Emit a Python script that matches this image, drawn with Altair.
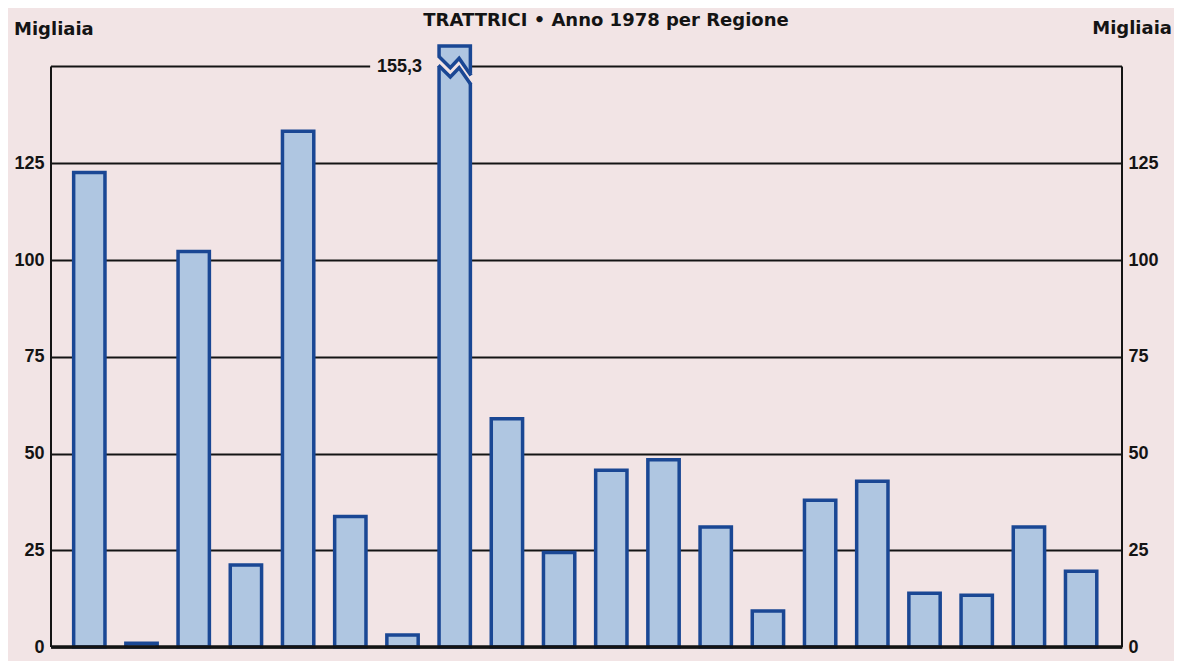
import altair as alt
import pandas as pd

# ---- data (thousands of tractors, 1978) ----
regions = ["Piemonte", "Valle d'Aosta", "Lombardia", "Trentino-Alto Adige", "Veneto",
           "Friuli-Venezia Giulia", "Liguria", "Emilia-Romagna", "Toscana", "Umbria",
           "Marche", "Lazio", "Abruzzi", "Molise", "Campania", "Puglia", "Basilicata",
           "Calabria", "Sicilia", "Sardegna"]
values = [122.6, 1.0, 102.2, 21.2, 133.3, 33.7, 3.1, 155.3, 59.0, 24.4,
          45.7, 48.4, 31.0, 9.3, 37.9, 42.8, 13.9, 13.4, 31.0, 19.6]
positions = list(range(1, 21))

y_ticks = [0, 25, 50, 75, 100, 125]
top_line = 150
title_text = "TRATTRICI • Anno 1978 per Regione"
unit_label = "Migliaia"
broken_label = "155,3"

# break symbol on the tallest bar (shape offsets, x in bar half-widths, y below bar top)
brk_k = [-1.0, -0.27, 0.27, 1.0]
brk_upper = [2.6, 5.6, 3.2, 7.6]
brk_lower = [5.0, 8.0, 5.6, 10.0]

# ---- style ----
BG = "#f2e4e5"
FILL = "#afc6e1"
EDGE = "#1a4794"
INK = "#141414"
W, H = 1071, 601
HALF = 0.3
x_dom = [0.266, 20.783]
y_max = max(values)

xs = alt.Scale(domain=x_dom, nice=False, zero=False)
ys = alt.Scale(domain=[0, y_max], nice=False, zero=False)

df = pd.DataFrame({"regione": regions, "valore": values, "pos": positions})
brk_pos = positions[values.index(max(values))]
zz = pd.DataFrame({
    "xa": [brk_pos + k * (HALF + 0.05) for k in brk_k],
    "xl": [brk_pos + k * (HALF + 0.012) for k in brk_k],
    "yu": [y_max - d for d in brk_upper],
    "yl": [y_max - d for d in brk_lower],
})
segs = pd.DataFrame({"x0": [x_dom[0], brk_pos], "x1": [brk_pos - 1.62, x_dom[1]]})
frame = pd.DataFrame({"x": x_dom})
lab = pd.DataFrame({"x": [brk_pos - 0.627], "y": [top_line], "t": [broken_label]})

left_axis = alt.Axis(values=y_ticks, orient="left", grid=True, gridColor=INK, gridWidth=2,
                     domain=False, ticks=False, labelFontSize=18, labelFont="Liberation Sans",
                     labelFontWeight="bold", labelColor=INK, labelPadding=7, title=None)
right_axis = alt.Axis(values=y_ticks, orient="right", grid=False,
                      domain=False, ticks=False, labelFontSize=18, labelFont="Liberation Sans",
                      labelFontWeight="bold", labelColor=INK, labelPadding=6, title=None)

top_segs = alt.Chart(segs).mark_rule(color=INK, strokeWidth=2).encode(
    x=alt.X("x0:Q", scale=xs, axis=None), x2="x1:Q", y=alt.datum(top_line))

bars = alt.Chart(df).transform_calculate(
    x0=f"datum.pos - {HALF}", x1=f"datum.pos + {HALF}"
).mark_rect(fill=FILL, stroke=EDGE, strokeWidth=3.5).encode(
    x=alt.X("x0:Q", scale=xs, axis=None), x2="x1:Q",
    y=alt.Y("valore:Q", scale=ys, axis=left_axis), y2=alt.datum(0),
    tooltip=["regione:N", "valore:Q"])

gap = alt.Chart(zz).mark_area(color=BG, opacity=1).encode(
    x=alt.X("xa:Q", scale=xs), y="yu:Q", y2="yl:Q")
zu = alt.Chart(zz).mark_line(color=EDGE, strokeWidth=3.5, strokeJoin="miter").encode(
    x=alt.X("xl:Q", scale=xs), y="yu:Q")
zl = alt.Chart(zz).mark_line(color=EDGE, strokeWidth=3.5, strokeJoin="miter").encode(
    x=alt.X("xl:Q", scale=xs), y="yl:Q")

sides = alt.Chart(frame).mark_rule(color=INK, strokeWidth=2).encode(
    x=alt.X("x:Q", scale=xs), y=alt.datum(0), y2=alt.datum(top_line))
base = alt.Chart(frame).mark_rule(color=INK, strokeWidth=3).encode(
    x=alt.datum(x_dom[0]), x2=alt.datum(x_dom[1]), y=alt.datum(0))

blabel = alt.Chart(lab).mark_text(align="right", baseline="middle", fontSize=18,
                                   font="Liberation Sans", fontWeight="bold", color=INK).encode(
    x=alt.X("x:Q", scale=xs), y="y:Q", text="t:N")

tdf = pd.DataFrame({"t": [title_text]})
title = alt.Chart(tdf).mark_text(align="center", baseline="alphabetic", fontSize=18,
                                 font="DejaVu Sans", fontWeight="bold", color=INK).encode(
    text="t:N", x=alt.value(555), y=alt.value(-20))
udf = pd.DataFrame({"t": [unit_label]})
uleft = alt.Chart(udf).mark_text(align="left", baseline="alphabetic", fontSize=18,
                                 font="DejaVu Sans", fontWeight="bold", color=INK).encode(
    text="t:N", x=alt.value(-37), y=alt.value(-11))
uright = alt.Chart(udf).mark_text(align="right", baseline="alphabetic", fontSize=18,
                                  font="DejaVu Sans", fontWeight="bold", color=INK).encode(
    text="t:N", x=alt.value(W + 50), y=alt.value(-12))

main = alt.layer(top_segs, bars, gap, zu, zl, sides, base, blabel, title, uleft, uright)

right = alt.Chart(df).mark_point(opacity=0).encode(
    y=alt.Y("valore:Q", scale=ys, axis=right_axis))

chart = alt.layer(main, right).resolve_scale(y="independent").properties(
    width=W, height=H,
    autosize=alt.AutoSizeParams(type="none"),
    padding={"left": 43, "top": 38, "right": 52, "bottom": 14},
    background=BG,
).configure_view(stroke=None)

chart.save("out.html", embed_options={"renderer": "svg", "actions": False})
